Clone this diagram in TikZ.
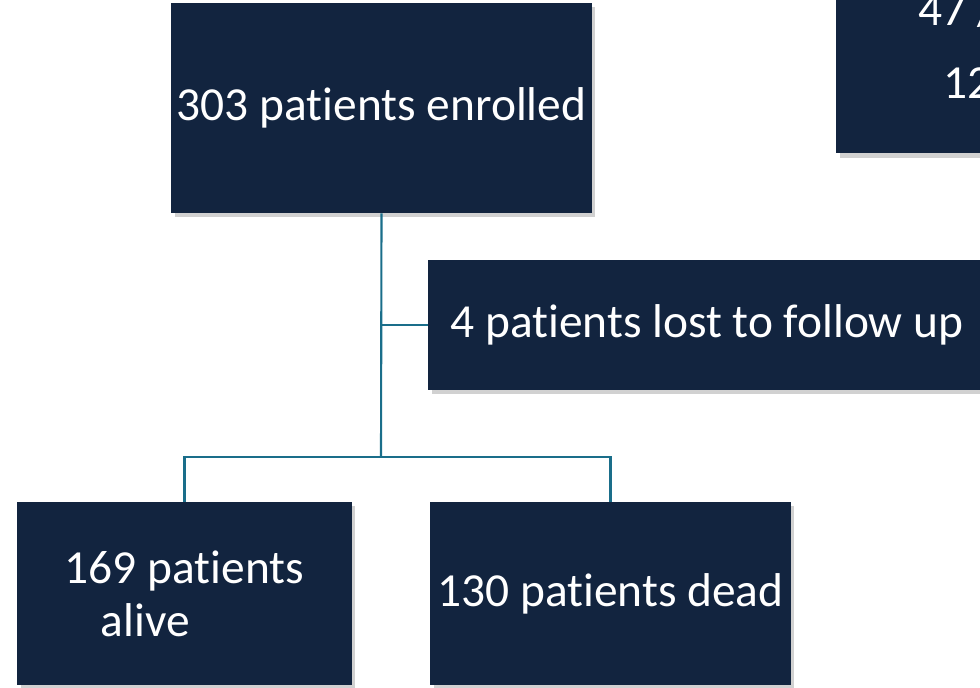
\documentclass[tikz,border=0pt]{standalone}
\usepackage{fontspec}
\setmainfont[RawFeature={-liga;-clig;-dlig;-calt}]{Carlito}
\usetikzlibrary{shadows}
\definecolor{navy}{HTML}{12243F}
\definecolor{teal}{HTML}{1A6E8A}

\tikzset{
  box/.style={fill=navy, text=white, inner sep=0pt,
    font=\fontsize{27}{30}\selectfont,
    drop shadow={shadow xshift=2pt, shadow yshift=-2.5pt, opacity=0.18, fill=black}},
  boxtext/.style={text=white, inner sep=0pt, font=\fontsize{27}{30}\selectfont},
  link/.style={draw=teal, line width=1.2pt}
}

\begin{document}
\begin{tikzpicture}[x=0.02cm, y=-0.02cm]
\useasboundingbox (0,0) rectangle (980,687);
\clip (0,0) rectangle (980,687);

\node[box, minimum width=8.42cm, minimum height=4.2cm] (enrolled) at (381.5,108) {303 patients enrolled};
\node[box, anchor=north west, minimum width=6cm, minimum height=5.06cm] (other) at (836,-100) {};
\node[boxtext, anchor=base west] (otherA) at (918,25) {47 /};
\node[boxtext, anchor=base west] (otherB) at (943,98) {12};

\node[box, anchor=west, minimum width=12cm, minimum height=2.6cm] (lost) at (428,325)
  {\makebox[11.12cm][l]{4 patients lost to follow up}};

\node[box, minimum width=6.7cm, minimum height=3.66cm, align=left] (alive) at (184.5,593.5) {169 patients\\\hspace*{0.72cm}alive};
\node[box, minimum width=7.22cm, minimum height=3.66cm] (dead) at (610.5,593.5) {130 patients dead};

\coordinate (split) at (381,457);

\draw[link] (enrolled.south) -- (split);
\draw[link] (enrolled.south |- lost.west) -- (lost.west);
\draw[link] (split) -| (alive.north);
\draw[link] (split) -| (dead.north);
\end{tikzpicture}
\end{document}
